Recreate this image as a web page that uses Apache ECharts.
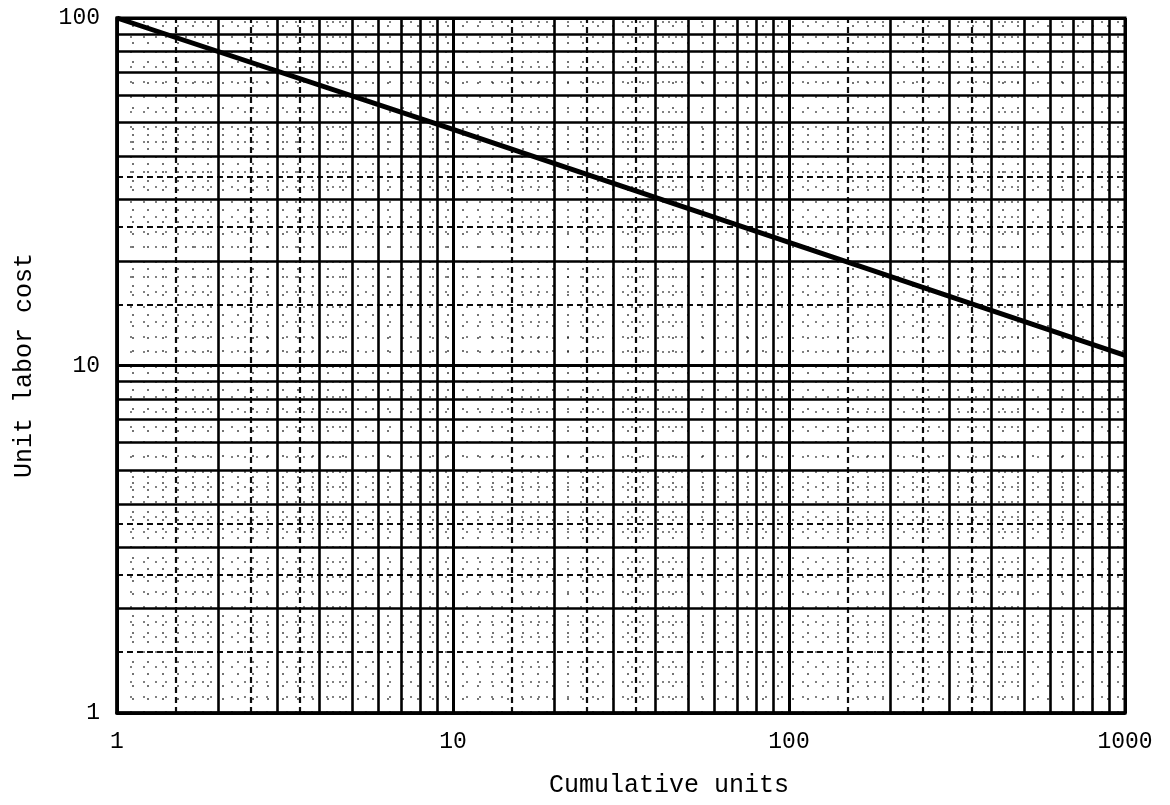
<!DOCTYPE html>
<html>
<head>
<meta charset="utf-8">
<title>Learning curve</title>
<script src="https://cdn.jsdelivr.net/npm/echarts@6/dist/echarts.min.js"></script>
<style>
  html, body { margin: 0; padding: 0; background: #fff; }
  #chart { width: 1170px; height: 805px; }
</style>
</head>
<body>
<div id="chart"></div>
<script>
// Learning curve on log-log paper
const cumulativeUnits = [1, 10, 100, 1000];
const unitLaborCost = [100, 47.8, 22.6, 10.7];

const xTickLabels = ['1', '10', '100', '1000'];
const yTickLabels = ['1', '10', '100'];

// log-paper rulings: decade starts, heavy rulings, dotted half rulings, fine dotted rulings
const xDecades = [1, 10, 100];
const yDecades = [1, 10];
const heavySteps = [2, 3, 4, 5, 6, 7, 8, 9];
const halfSteps = [1.5, 2.5, 3.5];
const fineSteps = [1.1, 1.2, 1.3, 1.4, 1.6, 1.7, 1.8, 1.9,
                   2.2, 2.4, 2.6, 2.8, 3.2, 3.4, 3.6, 3.8,
                   4.2, 4.4, 4.6, 4.8, 5.5, 6.5, 7.5, 8.5, 9.5];

const MONO = '"Liberation Mono", "DejaVu Sans Mono", monospace';

function rulings(decades, steps) {
  const out = [];
  decades.forEach(d => steps.forEach(s => out.push(d * s)));
  return out;
}

function gridMarks(dim, values, style) {
  return values.map(v => ({ [dim]: v, lineStyle: style }));
}

const heavyStyle = { color: '#000', width: 2.6, type: 'solid', opacity: 1 };
const halfStyle = { color: '#000', width: 2.2, type: [6, 4], opacity: 0.95 };
const fineStyle = { color: '#000', width: 1.8, type: [2, 13], opacity: 0.55 };

const markData = []
  .concat(gridMarks('xAxis', rulings(xDecades, fineSteps), fineStyle))
  .concat(gridMarks('yAxis', rulings(yDecades, fineSteps), fineStyle))
  .concat(gridMarks('xAxis', rulings(xDecades, halfSteps), halfStyle))
  .concat(gridMarks('yAxis', rulings(yDecades, halfSteps), halfStyle))
  .concat(gridMarks('xAxis', rulings(xDecades, heavySteps), heavyStyle))
  .concat(gridMarks('yAxis', rulings(yDecades, heavySteps), heavyStyle));

const chart = echarts.init(document.getElementById('chart'), null, { renderer: 'canvas' });

chart.setOption({
  animation: false,
  backgroundColor: '#fff',
  grid: {
    left: 117, right: 45, top: 18, bottom: 92,
    show: true, borderColor: '#000', borderWidth: 3
  },
  xAxis: {
    type: 'log', logBase: 10, min: 1, max: 1000,
    name: 'Cumulative units',
    nameLocation: 'middle', nameGap: 60,
    nameTextStyle: { fontFamily: MONO, fontSize: 25, color: '#000', padding: [0, 0, 0, 96] },
    axisLine: { show: true, lineStyle: { color: '#000', width: 3.5 } },
    axisTick: { show: false },
    splitLine: { show: true, lineStyle: { color: '#000', width: 3 } },
    axisLabel: {
      fontFamily: MONO, fontSize: 23, color: '#000', margin: 17,
      formatter: v => xTickLabels[Math.round(Math.log10(v))]
    }
  },
  yAxis: {
    type: 'log', logBase: 10, min: 1, max: 100,
    name: 'Unit labor cost',
    nameLocation: 'middle', nameGap: 80,
    nameTextStyle: { fontFamily: MONO, fontSize: 25, color: '#000' },
    axisLine: { show: true, lineStyle: { color: '#000', width: 3.5 } },
    axisTick: { show: false },
    splitLine: { show: true, lineStyle: { color: '#000', width: 3 } },
    axisLabel: {
      fontFamily: MONO, fontSize: 23, color: '#000', margin: 17,
      formatter: v => yTickLabels[Math.round(Math.log10(v))]
    }
  },
  series: [
    {
      name: 'rulings',
      type: 'line',
      data: [[1, 1]],
      showSymbol: false,
      lineStyle: { width: 0 },
      silent: true,
      z: 1,
      markLine: {
        silent: true,
        symbol: ['none', 'none'],
        label: { show: false },
        emphasis: { disabled: true },
        animation: false,
        data: markData
      }
    },
    {
      name: 'Unit labor cost',
      type: 'line',
      data: cumulativeUnits.map((u, i) => [u, unitLaborCost[i]]),
      showSymbol: false,
      lineStyle: { color: '#000', width: 5 },
      z: 5
    }
  ]
});
</script>
</body>
</html>
